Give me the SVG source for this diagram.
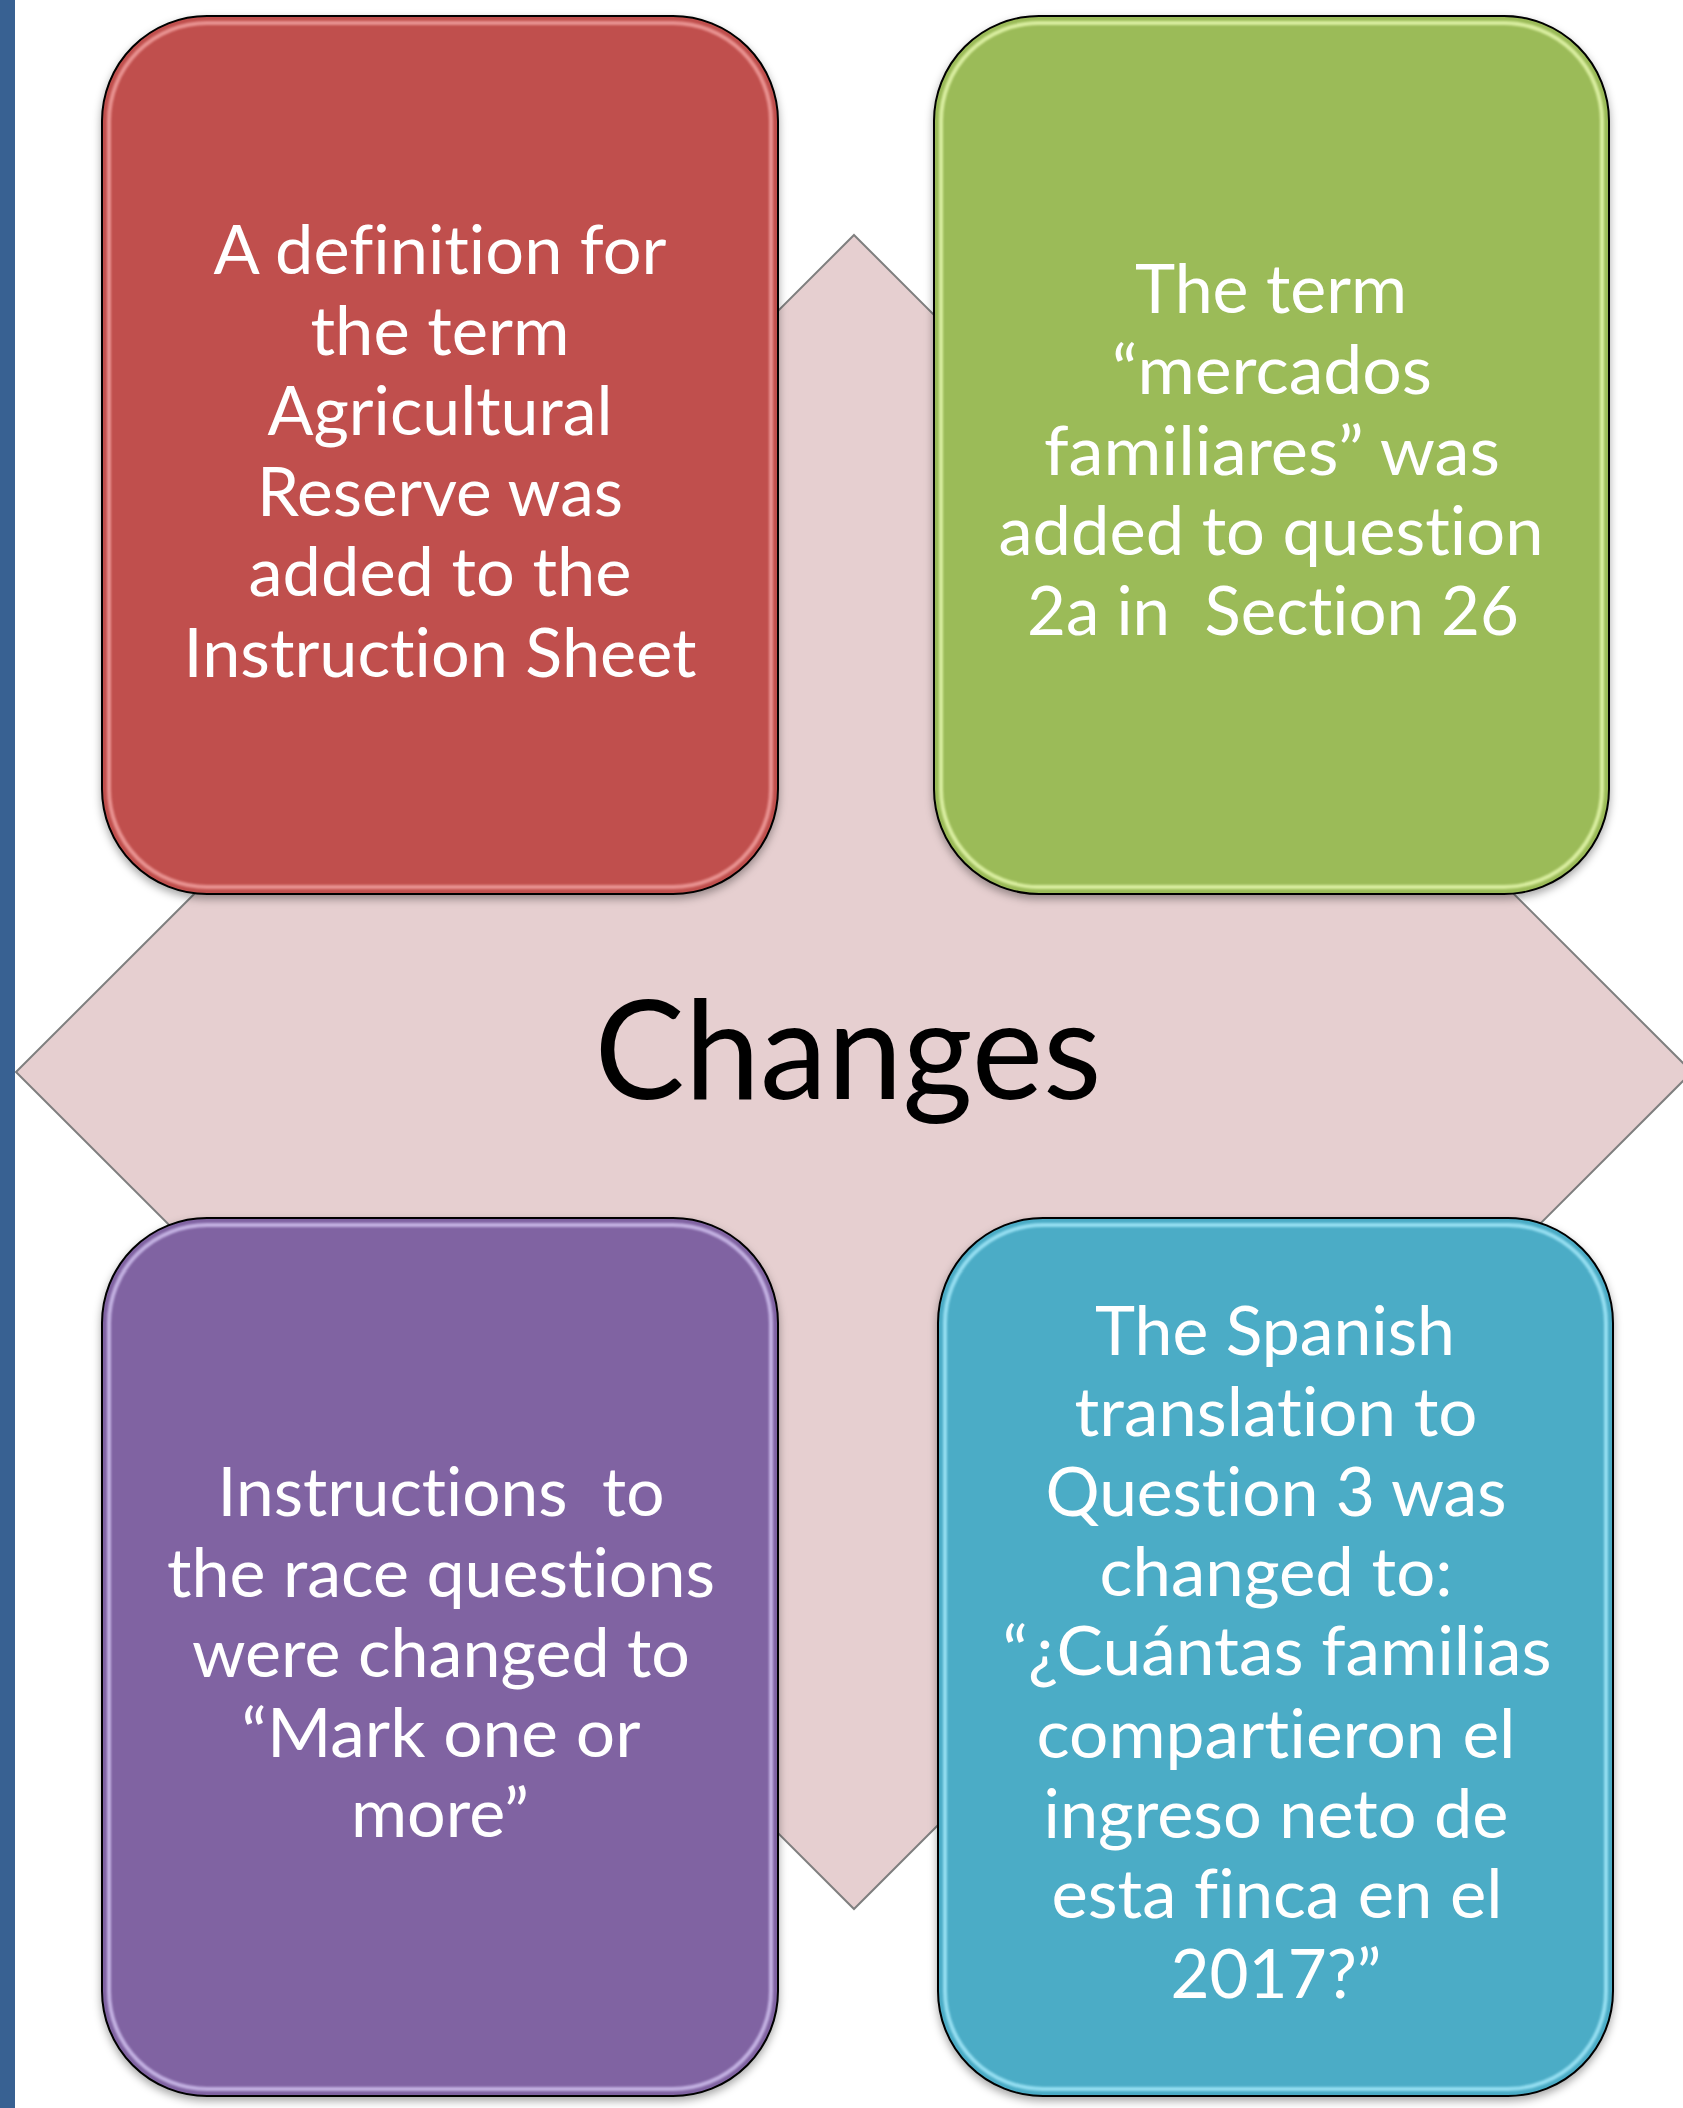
<svg xmlns="http://www.w3.org/2000/svg" width="1683" height="2108" viewBox="0 0 1683 2108">
  <defs>
    <filter id="shadow" x="-10%" y="-10%" width="120%" height="120%">
      <feDropShadow dx="0" dy="4" stdDeviation="4" flood-color="#000" flood-opacity="0.35"/>
    </filter>
    <filter id="soft" x="-5%" y="-5%" width="110%" height="110%">
      <feGaussianBlur stdDeviation="1.2"/>
    </filter>
  </defs>
  <style>
    .box { stroke: #000; stroke-width: 2; }
    .gloss { fill: none; stroke-width: 4; opacity: 0.75; }
    .label { font-family: Lato, "Open Sans", "Liberation Sans", sans-serif; font-size: 67px; fill: #fff; text-anchor: middle; font-variant-ligatures: none; font-feature-settings: "liga" 0, "clig" 0, "dlig" 0; }
    .title { font-family: Lato, "Open Sans", "Liberation Sans", sans-serif; font-size: 138px; fill: #000; text-anchor: middle; font-variant-ligatures: none; font-feature-settings: "liga" 0, "clig" 0; }
  </style>
  <rect width="1683" height="2108" fill="#fff"/>
  <rect id="side-bar" x="0" y="0" width="15" height="2108" fill="#386192"/>

  <g id="center">
    <polygon points="854,235 1692,1072 854,1909 16,1072" fill="#E6CFD0" stroke="#7F7F7F" stroke-width="2"/>
    <text class="title" x="848" y="1099" textLength="507" lengthAdjust="spacingAndGlyphs">Changes</text>
  </g>

  <g id="connectors"/>

  <g id="node-red">
    <rect class="box" x="102" y="16" width="676" height="878" rx="105" fill="#C0504D" filter="url(#shadow)"/>
    <rect class="gloss" x="109" y="23" width="662" height="864" rx="98" stroke="#F6A9A7" filter="url(#soft)"/>
    <text class="label" x="440" y="274" textLength="453" lengthAdjust="spacingAndGlyphs">A definition for</text>
    <text class="label" x="440" y="355" textLength="259" lengthAdjust="spacingAndGlyphs">the term</text>
    <text class="label" x="440" y="435" textLength="345" lengthAdjust="spacingAndGlyphs">Agricultural</text>
    <text class="label" x="440" y="516" textLength="366" lengthAdjust="spacingAndGlyphs">Reserve was</text>
    <text class="label" x="440" y="596" textLength="383" lengthAdjust="spacingAndGlyphs">added to the</text>
    <text class="label" x="440" y="677" textLength="513" lengthAdjust="spacingAndGlyphs">Instruction Sheet</text>
  </g>

  <g id="node-green">
    <rect class="box" x="934" y="16" width="675" height="878" rx="105" fill="#9BBB59" filter="url(#shadow)"/>
    <rect class="gloss" x="941" y="23" width="661" height="864" rx="98" stroke="#EEFFB8" filter="url(#soft)"/>
    <text class="label" x="1271" y="313" textLength="272" lengthAdjust="spacingAndGlyphs">The term</text>
    <text class="label" x="1272" y="394" textLength="320" lengthAdjust="spacingAndGlyphs">“mercados</text>
    <text class="label" x="1272" y="475" textLength="456" lengthAdjust="spacingAndGlyphs">familiares” was</text>
    <text class="label" x="1271" y="555" textLength="545" lengthAdjust="spacingAndGlyphs">added to question</text>
    <text class="label" x="1273" y="635" textLength="492" lengthAdjust="spacingAndGlyphs" xml:space="preserve">2a in  Section 26</text>
  </g>

  <g id="node-purple">
    <rect class="box" x="102" y="1218" width="676" height="878" rx="105" fill="#8064A2" filter="url(#shadow)"/>
    <rect class="gloss" x="109" y="1225" width="662" height="864" rx="98" stroke="#D9CBF7" filter="url(#soft)"/>
    <text class="label" x="441" y="1516" textLength="447" lengthAdjust="spacingAndGlyphs" xml:space="preserve">Instructions  to</text>
    <text class="label" x="441" y="1597" textLength="548" lengthAdjust="spacingAndGlyphs">the race questions</text>
    <text class="label" x="441" y="1677" textLength="498" lengthAdjust="spacingAndGlyphs">were changed to</text>
    <text class="label" x="441" y="1757" textLength="399" lengthAdjust="spacingAndGlyphs">“Mark one or</text>
    <text class="label" x="440" y="1837" textLength="178" lengthAdjust="spacingAndGlyphs">more”</text>
  </g>

  <g id="node-blue">
    <rect class="box" x="938" y="1218" width="675" height="878" rx="105" fill="#4BACC6" filter="url(#shadow)"/>
    <rect class="gloss" x="945" y="1225" width="661" height="864" rx="98" stroke="#ADEFFF" filter="url(#soft)"/>
    <text class="label" x="1275" y="1355" textLength="360" lengthAdjust="spacingAndGlyphs">The Spanish</text>
    <text class="label" x="1276" y="1436" textLength="403" lengthAdjust="spacingAndGlyphs">translation to</text>
    <text class="label" x="1276" y="1516" textLength="461" lengthAdjust="spacingAndGlyphs">Question 3 was</text>
    <text class="label" x="1276" y="1596" textLength="353" lengthAdjust="spacingAndGlyphs">changed to:</text>
    <text class="label" x="1277" y="1675" textLength="549" lengthAdjust="spacingAndGlyphs">“¿Cuántas familias</text>
    <text class="label" x="1276" y="1758" textLength="479" lengthAdjust="spacingAndGlyphs">compartieron el</text>
    <text class="label" x="1276" y="1838" textLength="465" lengthAdjust="spacingAndGlyphs">ingreso neto de</text>
    <text class="label" x="1277" y="1918" textLength="451" lengthAdjust="spacingAndGlyphs">esta finca en el</text>
    <text class="label" x="1276" y="1998" textLength="211" lengthAdjust="spacingAndGlyphs">2017?”</text>
  </g>
</svg>
